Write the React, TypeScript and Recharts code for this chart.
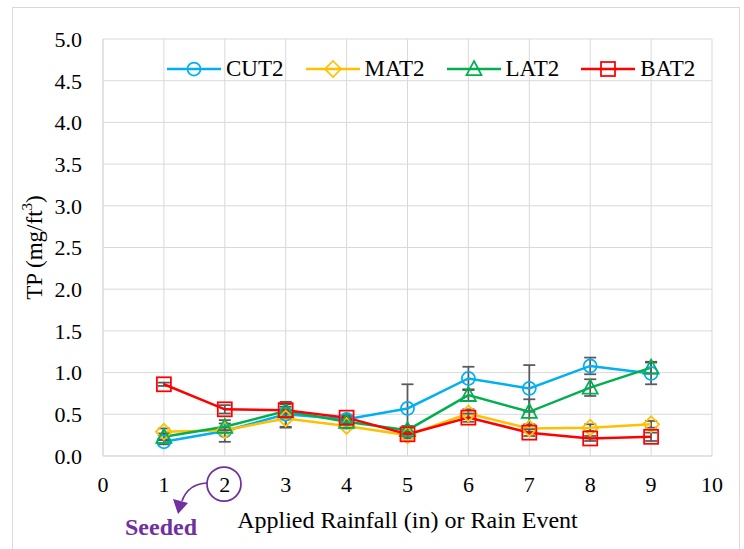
import React from 'react';
import {
  LineChart,
  Line,
  XAxis,
  YAxis,
  CartesianGrid,
  ErrorBar,
  Legend,
  Customized,
} from 'recharts';

// Total phosphorus per rain event (mg/ft³), mean and standard error
const rainEvents = [1, 2, 3, 4, 5, 6, 7, 8, 9];

const cut2 = [0.17, 0.3, 0.5, 0.44, 0.57, 0.93, 0.81, 1.08, 0.99];
const cut2Err = [0.03, 0.13, 0.15, 0.03, 0.29, 0.14, 0.28, 0.1, 0.13];

const mat2 = [0.29, 0.31, 0.45, 0.36, 0.25, 0.51, 0.33, 0.34, 0.38];
const mat2Err = [0.04, 0.03, 0.11, 0.03, 0.04, 0.05, 0.04, 0.04, 0.04];

const lat2 = [0.23, 0.35, 0.54, 0.41, 0.31, 0.73, 0.53, 0.82, 1.06];
const lat2Err = [0.04, 0.04, 0.08, 0.03, 0.05, 0.07, 0.15, 0.1, 0.07];

const bat2 = [0.86, 0.56, 0.55, 0.46, 0.26, 0.46, 0.28, 0.21, 0.23];
const bat2Err = [0.02, 0.05, 0.04, 0.03, 0.03, 0.05, 0.04, 0.03, 0.05];

const xTicks = [0, 1, 2, 3, 4, 5, 6, 7, 8, 9, 10];
const yTicks = [0, 0.5, 1, 1.5, 2, 2.5, 3, 3.5, 4, 4.5, 5];

type MarkerType = 'circle' | 'diamond' | 'triangle' | 'square';

const SERIES: { key: string; name: string; color: string; marker: MarkerType }[] = [
  { key: 'cut2', name: 'CUT2', color: '#00B0F0', marker: 'circle' },
  { key: 'mat2', name: 'MAT2', color: '#FFC000', marker: 'diamond' },
  { key: 'lat2', name: 'LAT2', color: '#00B050', marker: 'triangle' },
  { key: 'bat2', name: 'BAT2', color: '#FF0000', marker: 'square' },
];

const rows = rainEvents.map((x, i) => ({
  x,
  cut2: cut2[i],
  cut2Err: cut2Err[i],
  mat2: mat2[i],
  mat2Err: mat2Err[i],
  lat2: lat2[i],
  lat2Err: lat2Err[i],
  bat2: bat2[i],
  bat2Err: bat2Err[i],
}));

const FONT = "'Liberation Serif', 'Times New Roman', serif";
const GRID = '#d9d9d9';
const ERR = '#595959';
const PURPLE = '#7030A0';

function Marker({ type, cx, cy, color }: { type: MarkerType; cx: number; cy: number; color: string }) {
  const common = { fill: 'none', stroke: color, strokeWidth: 1.75 };
  switch (type) {
    case 'circle':
      return <circle cx={cx} cy={cy} r={6.5} {...common} />;
    case 'diamond':
      return (
        <polygon
          points={`${cx},${cy - 8} ${cx + 8},${cy} ${cx},${cy + 8} ${cx - 8},${cy}`}
          {...common}
        />
      );
    case 'triangle':
      return (
        <polygon
          points={`${cx},${cy - 8} ${cx + 7.5},${cy + 6} ${cx - 7.5},${cy + 6}`}
          {...common}
        />
      );
    default:
      return <rect x={cx - 7} y={cy - 7} width={14} height={14} {...common} />;
  }
}

const makeDot = (type: MarkerType, color: string) => (props: any) => {
  const { cx, cy, index } = props;
  if (cx == null || cy == null) return <g key={`d-${index}`} />;
  return <Marker key={`m-${type}-${index}`} type={type} cx={cx} cy={cy} color={color} />;
};

const renderLegend = () => (
  <div
    style={{
      display: 'flex',
      alignItems: 'center',
      fontFamily: FONT,
      fontSize: 23,
      lineHeight: '24px',
      color: '#000',
      whiteSpace: 'nowrap',
    }}
  >
    {SERIES.map((s, i) => (
      <div
        key={s.key}
        style={{ display: 'flex', alignItems: 'center', marginRight: i < SERIES.length - 1 ? 22 : 0 }}
      >
        <svg width={54} height={20} style={{ display: 'block' }}>
          <line x1={0} y1={10} x2={54} y2={10} stroke={s.color} strokeWidth={2.5} />
          <Marker type={s.marker} cx={27} cy={10} color={s.color} />
        </svg>
        <span style={{ marginLeft: 5 }}>{s.name}</span>
      </div>
    ))}
  </div>
);

const XTitle = (props: any) => {
  const { viewBox } = props;
  return (
    <text
      x={viewBox.x + viewBox.width / 2}
      y={viewBox.y + 72}
      textAnchor="middle"
      fontFamily={FONT}
      fontSize={24}
      fill="#000"
    >
      Applied Rainfall (in) or Rain Event
    </text>
  );
};

const YTitle = (props: any) => {
  const { viewBox } = props;
  const cx = viewBox.x + 34;
  const cy = viewBox.y + viewBox.height / 2;
  return (
    <text
      x={cx}
      y={cy}
      transform={`rotate(-90, ${cx}, ${cy})`}
      textAnchor="middle"
      dominantBaseline="central"
      fontFamily={FONT}
      fontSize={23}
      fill="#000"
    >
      <tspan>TP (mg/ft</tspan>
      <tspan dy={-7} fontSize={15}>3</tspan>
      <tspan dy={7}>)</tspan>
    </text>
  );
};

// "Seeded" callout pointing at rain event 2
const SeededNote = () => (
  <g>
    <ellipse cx={224} cy={484} rx={17} ry={17} fill="none" stroke={PURPLE} strokeWidth={1.75} />
    <path d="M 207 483 Q 188 484 182 501" fill="none" stroke={PURPLE} strokeWidth={1.75} />
    <polygon points="173,499 188,503 178,514" fill={PURPLE} />
    <text
      x={161}
      y={527}
      textAnchor="middle"
      dominantBaseline="central"
      fontFamily={FONT}
      fontSize={24}
      fontWeight="bold"
      fill={PURPLE}
    >
      Seeded
    </text>
  </g>
);

export default function App() {
  return (
    <div style={{ position: 'absolute', left: 0, top: 0, width: 744, height: 549, background: '#fff', overflow: 'hidden' }}>
      <div
        style={{
          position: 'absolute',
          left: 12,
          top: 7,
          width: 728,
          height: 600,
          border: `1px solid ${GRID}`,
          boxSizing: 'border-box',
        }}
      />
      <div style={{ position: 'absolute', left: 0, top: 0 }}>
        <LineChart
          width={744}
          height={549}
          data={rows}
          margin={{ top: 39, right: 32, bottom: 0, left: 0 }}
          style={{ fontFamily: FONT }}
        >
          <CartesianGrid stroke={GRID} strokeWidth={1} />
          <XAxis
            type="number"
            dataKey="x"
            domain={[0, 10]}
            ticks={xTicks}
            interval={0}
            height={93}
            axisLine={{ stroke: GRID, strokeWidth: 1 }}
            tickLine={false}
            tickSize={6}
            tickMargin={14}
            tick={{ fill: '#000', fontSize: 22, fontFamily: FONT }}
            label={<XTitle />}
          />
          <YAxis
            type="number"
            domain={[0, 5]}
            ticks={yTicks}
            interval={0}
            width={103}
            axisLine={{ stroke: GRID, strokeWidth: 1 }}
            tickLine={false}
            tickSize={6}
            tickMargin={15}
            tickFormatter={(v: number) => v.toFixed(1)}
            tick={{ fill: '#000', fontSize: 22, fontFamily: FONT }}
            label={<YTitle />}
          />
          <Legend
            layout="horizontal"
            verticalAlign="middle"
            align="center"
            content={renderLegend}
            wrapperStyle={{ position: 'absolute', left: 167, top: 57, width: 'auto', height: 'auto' }}
          />
          {SERIES.map((s) => (
            <Line
              key={s.key}
              type="linear"
              dataKey={s.key}
              name={s.name}
              stroke={s.color}
              strokeWidth={2.5}
              dot={makeDot(s.marker, s.color)}
              activeDot={false}
              isAnimationActive={false}
            >
              <ErrorBar
                dataKey={`${s.key}Err`}
                direction="y"
                width={6}
                stroke={ERR}
                strokeWidth={1.75}
              />
            </Line>
          ))}
          <Customized component={SeededNote} />
        </LineChart>
      </div>
    </div>
  );
}
